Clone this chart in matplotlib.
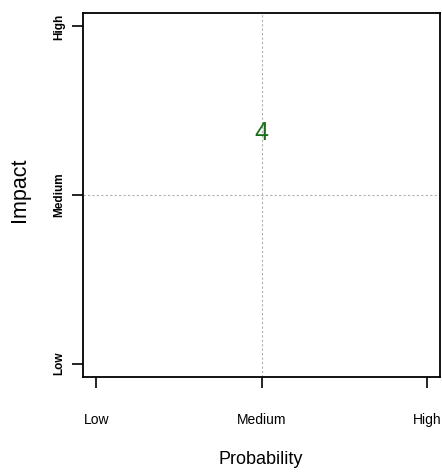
import matplotlib
matplotlib.use("Agg")
import matplotlib.pyplot as plt

levels = ["Low", "Medium", "High"]
level_pos = [1, 2, 3]
point_labels = ["4"]
point_prob = [2.0]
point_impact = [2.37]

plt.rcParams['font.family'] = ['Liberation Sans', 'DejaVu Sans']

fig = plt.figure(figsize=(4.42, 4.72), dpi=100)
ax = fig.add_axes([83/442, 1-377/472, (440-83)/442, (377-13)/472])

ax.set_xlim(0.92, 3.08)
ax.set_ylim(0.92, 3.08)

ax.axvline(2, color='#b0b0b0', linestyle=(0, (2, 2)), linewidth=0.8, zorder=1)
ax.axhline(2, color='#b0b0b0', linestyle=(0, (2, 2)), linewidth=0.8, zorder=1)

for lbl, px, py in zip(point_labels, point_prob, point_impact):
    ax.text(px, py, lbl, color='#1a6e1a', fontsize=18, ha='center', va='center', zorder=3)

ax.set_xticks(level_pos)
ax.set_xticklabels(levels, fontsize=10)
ax.set_yticks(level_pos)
ax.set_yticklabels(levels, fontsize=8.5, rotation=90, va='center', fontweight='bold')
ax.tick_params(axis='x', length=8, width=1.2, pad=18)
ax.tick_params(axis='y', length=8, width=1.2, pad=5)

for s in ax.spines.values():
    s.set_linewidth(1.3)

fig.text(261/442, 1-460/472, "Probability", fontsize=13, ha='center', va='center')
fig.text(19/442, 1-190/472, "Impact", fontsize=15.5, ha='center', va='center', rotation=90)

fig.savefig("out.png", dpi=100)
